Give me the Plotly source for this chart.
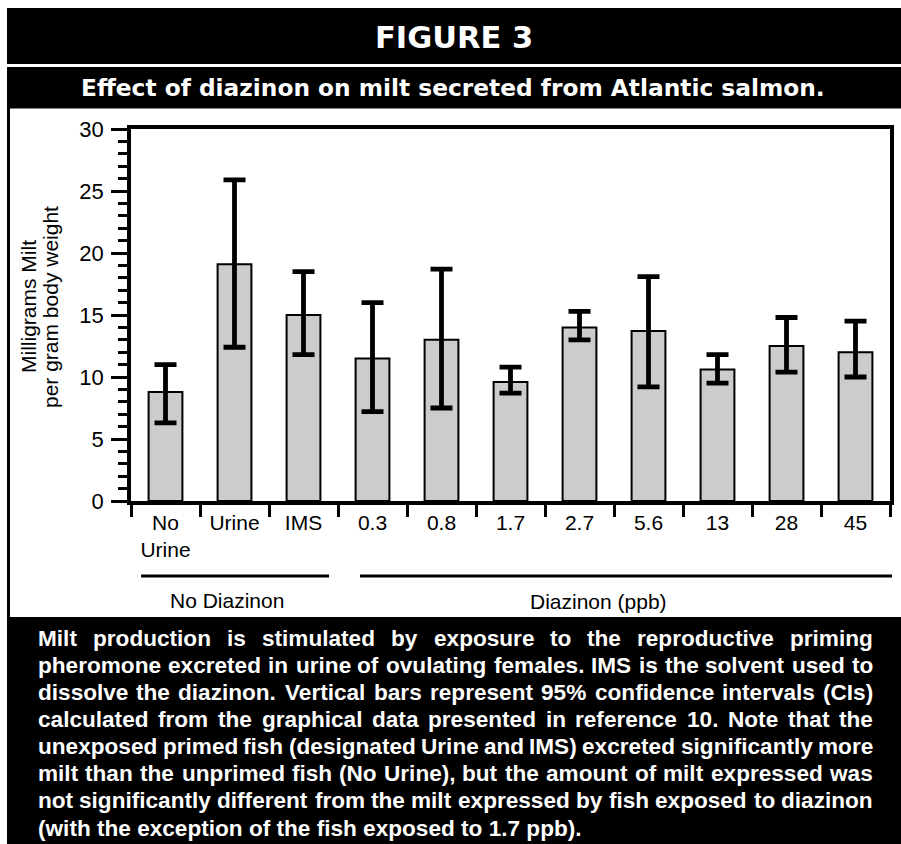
import plotly.graph_objects as go

W, H = 901, 844

# ---------------- data ----------------
categories = ["No<br>Urine", "Urine", "IMS", "0.3", "0.8", "1.7", "2.7", "5.6", "13", "28", "45"]
mean_milt = [8.8, 19.1, 15.0, 11.5, 13.0, 9.6, 14.0, 13.7, 10.6, 12.5, 12.0]
ci_upper = [11.0, 25.9, 18.5, 16.0, 18.7, 10.8, 15.3, 18.1, 11.8, 14.8, 14.5]
ci_lower = [6.3, 12.4, 11.8, 7.2, 7.5, 8.7, 13.0, 9.2, 9.5, 10.4, 10.0]
y_ticks = [0, 5, 10, 15, 20, 25, 30]
group_labels = ["No Diazinon", "Diazinon (ppb)"]
figure_title = "FIGURE 3"
subtitle = "Effect of diazinon on milt secreted from Atlantic salmon."
y_title_lines = ["Milligrams Milt", "per gram body weight"]
caption_lines = [
    "Milt production is stimulated by exposure to the reproductive priming",
    "pheromone excreted in urine of ovulating females. IMS is the solvent used to",
    "dissolve the diazinon. Vertical bars represent 95% confidence intervals (CIs)",
    "calculated from the graphical data presented in reference 10. Note that the",
    "unexposed primed fish (designated Urine and IMS) excreted significantly more",
    "milt than the unprimed fish (No Urine), but the amount of milt expressed was",
    "not significantly different from the milt expressed by fish exposed to diazinon",
    "(with the exception of the fish exposed to 1.7 ppb).",
]

err_plus = [u - m for u, m in zip(ci_upper, mean_milt)]
err_minus = [m - l for m, l in zip(mean_milt, ci_lower)]


def px(x):
    return x / W


def py(y):
    return 1 - y / H


SANS = "Liberation Sans, Arial, Helvetica, sans-serif"
HEAVY = "DejaVu Sans, Arial Black, sans-serif"

fig = go.Figure()
fig.add_trace(go.Bar(
    x=categories, y=mean_milt, width=0.49,
    marker=dict(color="#cccccc", line=dict(color="black", width=2)),
    error_y=dict(type="data", symmetric=False, array=err_plus, arrayminus=err_minus,
                 color="black", thickness=4.8, width=11),
    hoverinfo="skip",
))

fig.update_layout(
    width=W, height=H,
    margin=dict(l=0, r=0, t=0, b=0),
    paper_bgcolor="white", plot_bgcolor="white",
    showlegend=False,
    xaxis=dict(
        type="category", domain=[px(131), px(890)], range=[-0.5, 10.5],
        tickson="boundaries", ticks="outside", ticklen=12, tickwidth=3, tickcolor="black",
        showline=True, linewidth=3.5, linecolor="black", mirror=True,
        showgrid=False, zeroline=False, automargin=False,
        tickfont=dict(family=SANS, size=21, color="black"),
    ),
    yaxis=dict(
        domain=[py(501), py(129)], range=[0, 30],
        tickmode="array", tickvals=y_ticks,
        ticks="outside", ticklen=16, tickwidth=3, tickcolor="black",
        minor=dict(dtick=1, ticks="outside", ticklen=9, tickwidth=3, tickcolor="black", showgrid=False),
        showline=True, linewidth=3.5, linecolor="black", mirror=True,
        showgrid=False, zeroline=False, automargin=False,
        ticklabelstandoff=3,
        tickfont=dict(family=SANS, size=22, color="black"),
    ),
)

shapes = []
# header bands
shapes.append(dict(type="rect", xref="paper", yref="paper", x0=px(7), x1=1, y0=py(64), y1=py(8),
                   fillcolor="black", line=dict(width=0)))
shapes.append(dict(type="rect", xref="paper", yref="paper", x0=px(7), x1=1, y0=py(108.5), y1=py(67),
                   fillcolor="black", line=dict(width=0)))
# left frame border
shapes.append(dict(type="rect", xref="paper", yref="paper", x0=px(7), x1=px(10), y0=py(617), y1=py(108),
                   fillcolor="black", line=dict(width=0)))
# caption band
shapes.append(dict(type="rect", xref="paper", yref="paper", x0=px(7), x1=1, y0=0, y1=py(617),
                   fillcolor="black", line=dict(width=0)))
# group lines
shapes.append(dict(type="line", xref="paper", yref="paper", x0=px(141), x1=px(329), y0=py(576), y1=py(576),
                   line=dict(color="black", width=3)))
shapes.append(dict(type="line", xref="paper", yref="paper", x0=px(360), x1=px(892), y0=py(576), y1=py(576),
                   line=dict(color="black", width=3)))
fig.update_layout(shapes=shapes)

ann = []


def add_text(x, y, text, size, family, color="black", xanchor="center", weight="normal", angle=0):
    ann.append(dict(x=px(x), y=py(y), xref="paper", yref="paper", text=text, showarrow=False,
                    xanchor=xanchor, yanchor="middle", textangle=angle, borderpad=0, borderwidth=0,
                    font=dict(family=family, size=size, color=color, weight=weight)))


add_text(454, 37, figure_title, 30.5, HEAVY, "white", weight="bold")
add_text(452.5, 88, subtitle, 23.3, HEAVY, "white", weight="bold")

add_text(28, 307, y_title_lines[0], 21, SANS, angle=-90)
add_text(50, 307, y_title_lines[1], 21, SANS, angle=-90)

add_text(227, 600, group_labels[0], 21, SANS)
add_text(598, 601, group_labels[1], 21, SANS)

# caption, justified using Arial Bold advance widths
ARIAL_BOLD = {
    'a': 556, 'b': 611, 'c': 556, 'd': 611, 'e': 556, 'f': 333, 'g': 611, 'h': 611, 'i': 278,
    'j': 278, 'k': 556, 'l': 278, 'm': 889, 'n': 611, 'o': 611, 'p': 611, 'q': 611, 'r': 389,
    's': 556, 't': 333, 'u': 611, 'v': 556, 'w': 778, 'x': 556, 'y': 556, 'z': 500,
    'A': 722, 'B': 722, 'C': 722, 'D': 722, 'E': 667, 'F': 611, 'G': 778, 'H': 722, 'I': 278,
    'J': 556, 'K': 722, 'L': 611, 'M': 833, 'N': 722, 'O': 778, 'P': 667, 'Q': 778, 'R': 722,
    'S': 667, 'T': 611, 'U': 722, 'V': 667, 'W': 944, 'X': 667, 'Y': 667, 'Z': 611,
    ' ': 278, '.': 278, ',': 278, '(': 333, ')': 333, '%': 889, '-': 333,
}


def tw(s, size):
    return sum(ARIAL_BOLD.get(ch, 556) for ch in s) * size / 1000.0


CAP = 22.6
LEFT, RIGHT = 38, 873
for i, line in enumerate(caption_lines):
    yc = 638 + 27.15 * i
    if i == len(caption_lines) - 1:
        add_text(LEFT, yc, line, CAP, SANS, "white", xanchor="left", weight="bold")
        continue
    words = line.split(" ")
    widths = [tw(w, CAP) for w in words]
    gap = (RIGHT - LEFT - sum(widths)) / (len(words) - 1)
    x = LEFT
    n = len(words)
    for j, (w, wd) in enumerate(zip(words, widths)):
        if j == 0:
            add_text(LEFT, yc, w, CAP, SANS, "white", xanchor="left", weight="bold")
        elif j == n - 1:
            add_text(RIGHT, yc, w, CAP, SANS, "white", xanchor="right", weight="bold")
        else:
            add_text(x + wd / 2.0, yc, w, CAP, SANS, "white", xanchor="center", weight="bold")
        x += wd + gap

fig.update_layout(annotations=ann)

fig.write_html("out.html")
